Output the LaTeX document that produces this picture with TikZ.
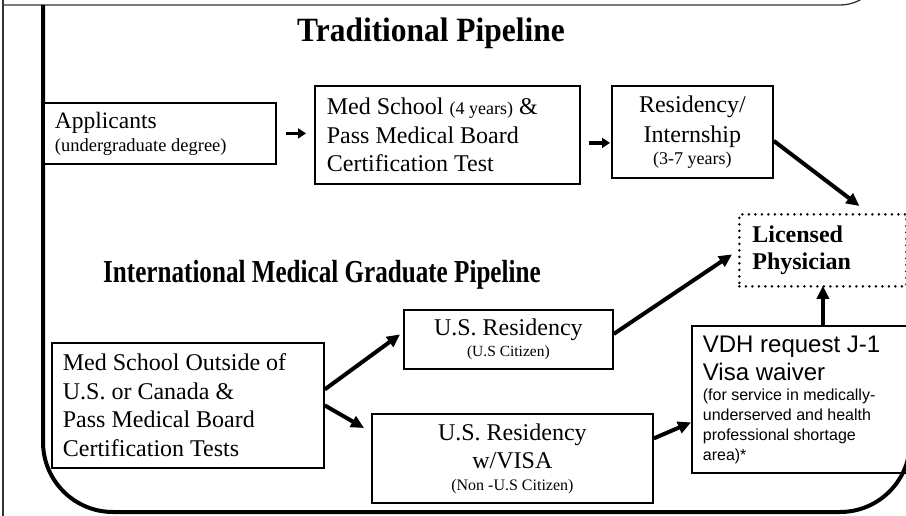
\documentclass[tikz,border=0pt]{standalone}
\usepackage{fontspec}
\usepackage{graphicx}
\setmainfont{Liberation Serif}
\setsansfont{Liberation Sans}
\usetikzlibrary{arrows.meta}
\newcommand\fs[2]{\fontsize{#1}{#2}\selectfont}
\newcommand\lb[2]{\parbox{#1}{\raggedright #2}}
\newcommand\cb[2]{\parbox{#1}{\centering #2}}
\begin{document}
\begin{tikzpicture}[x=1pt,y=-1pt,
 box/.style={draw, line width=1.8pt, inner sep=0pt, anchor=north west},
 arr/.style={line width=4pt, -{Triangle[length=13pt,width=12pt]}},
 sarr/.style={line width=3.5pt, -{Triangle[length=8pt,width=10pt]}},
 frame/.style={line width=4pt},
 thinline/.style={line width=1.3pt, black!80},
 dotbox/.style={draw, line width=2.8pt, dash pattern=on 0pt off 6.5pt, line cap=round, inner sep=0pt, anchor=north west},
 title/.style={inner sep=0pt}
 ]
\useasboundingbox (0,0) rectangle (906,516);
\clip (0,0) rectangle (906,516);
% frames
\draw[thinline] (3,-5) -- (3,520);
\draw[thinline, rounded corners=42pt] (3,5) -- (882,5) -- (882,-60);
\draw[frame, rounded corners=70pt] (43,5) -- (43,512) -- (910,512) -- (910,300);
% titles
\node[title, anchor=base, font=\bfseries\fs{34}{34}] (t1) at (431,42) {\scalebox{0.925}[1]{Traditional Pipeline}};
\node[title, anchor=base west, font=\bfseries\fs{32}{32}] (t2) at (103,283) {\scalebox{0.785}[1]{International Medical Graduate Pipeline}};
% traditional boxes
\node[box, fill=white, minimum width=232pt, minimum height=61pt, font=\fs{23.5}{23}] (app) at (43,102)
  {\lb{210pt}{Applicants\\{\fs{18.5}{23}(undergraduate degree)}}};
\node[box, minimum width=265pt, minimum height=98pt, font=\fs{24}{28.5}] (med) at (314,85)
  {\lb{241pt}{Med School {\fs{18}{28.5}(4 years)} \&\\Pass Medical Board\\Certification Test}};
\node[box, minimum width=161pt, minimum height=92pt, font=\fs{24}{30}] (res) at (611,85)
  {\cb{150pt}{Residency/\\Internship\\[-8pt]{\fs{18}{22}(3-7 years)}}};
\node[dotbox, minimum width=167pt, minimum height=72pt, font=\bfseries\fs{24}{27}] (lic) at (738,213)
  {\lb{141pt}{Licensed\\Physician}};
% IMG boxes
\node[box, minimum width=272pt, minimum height=125pt, font=\fs{24}{28.5}] (imed) at (51,342)
  {\lb{250pt}{Med School Outside of\\U.S. or Canada \&\\Pass Medical Board\\Certification Tests}};
\node[box, minimum width=209pt, minimum height=59pt, font=\fs{24}{21}] (usr) at (403,309)
  {\cb{200pt}{U.S. Residency\\{\fs{15.5}{21}(U.S Citizen)}}};
\node[box, minimum width=281pt, minimum height=89pt, font=\fs{24}{28}] (usv) at (371,413)
  {\cb{260pt}{U.S. Residency\\w/VISA\\[-6pt]{\fs{16}{22}(Non -U.S Citizen)}}};
\node[box, minimum width=215pt, minimum height=147pt, font=\sffamily\fs{24}{28}] (vdh) at (691,325)
  {\lb{193pt}{VDH request J-1\\Visa waiver\\[-8pt]{\fs{16}{20}(for service in medically-}\\[-8pt]{\fs{16}{20}underserved and health}\\[-8pt]{\fs{16}{20}professional shortage}\\[-8pt]{\fs{16}{20}area)*}}};
% connectors
\draw[sarr, shorten <=9pt, shorten >=8pt] (app.east) -- (app.east -| med.west);
\draw[sarr, shorten <=8pt, shorten >=1pt] ([yshift=-8pt]med.east) -- ([yshift=-8pt]med.east -| res.west);
\draw[arr] ([yshift=-9pt]res.east) -- ([xshift=36.5pt,yshift=7pt]lic.north);
\draw[arr] ([yshift=5.5pt]usr.east) -- ([xshift=-6pt,yshift=-4pt]lic.west);
\draw[arr] (vdh.north -| lic.south) -- ([yshift=2pt]lic.south);
\draw[arr] ([yshift=16pt]imed.east) -- ([xshift=-3pt,yshift=5pt]usr.west);
\draw[arr] (imed.east) -- ([xshift=-7pt,yshift=-15pt]usv.north west);
\draw[arr] ([yshift=20pt]usv.east) -- ([yshift=-23pt]vdh.west);
\end{tikzpicture}
\end{document}
